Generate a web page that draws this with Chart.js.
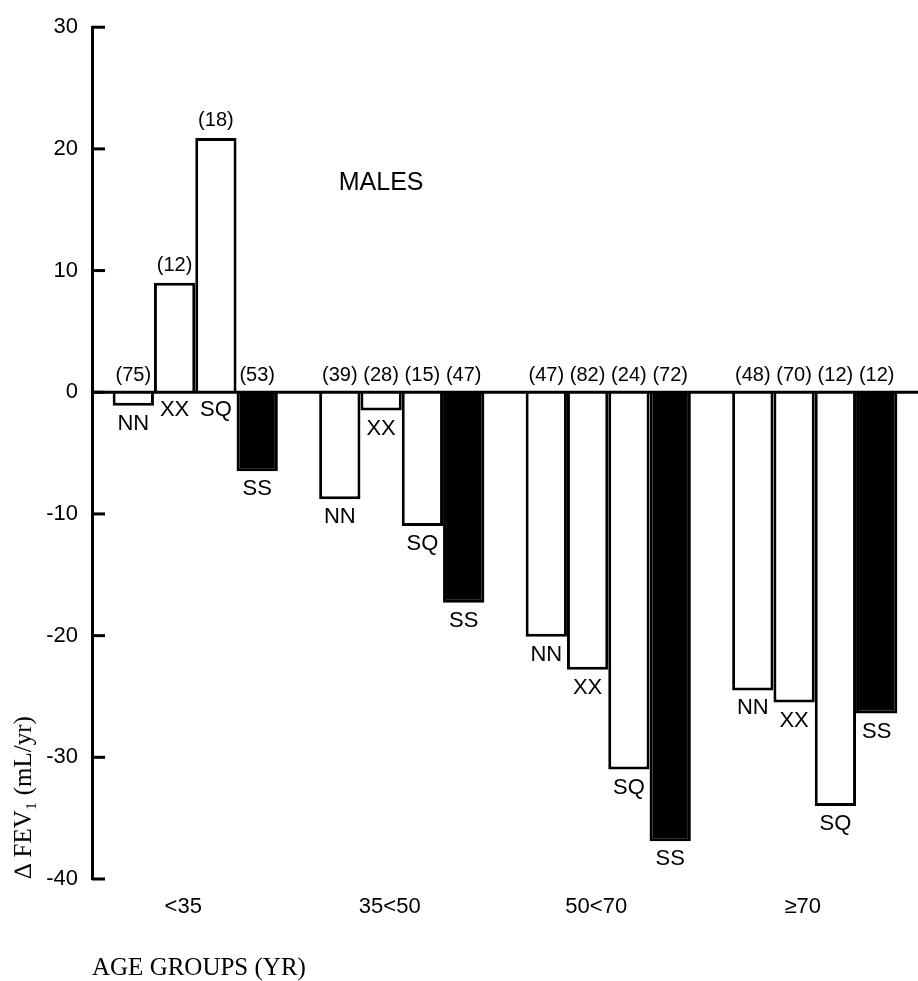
<!DOCTYPE html>
<html>
<head>
<meta charset="utf-8">
<script src="https://cdn.jsdelivr.net/npm/chart.js@4"></script>
<style>
    html, body { margin: 0; padding: 0; background: #fff; }
    #wrap { width: 918px; height: 981px; }
</style>
</head>
<body>
<div id="wrap"><canvas id="barChart"></canvas></div>
<script>
// values (mL/yr), one array per genotype
const ageGroups = ['<35', '35<50', '50<70', '\u226570'];
const nnValues = [-1.1, -8.8, -20.1, -24.5];
const xxValues = [9.0, -1.5, -22.8, -25.5];
const sqValues = [20.9, -11.0, -31.0, -34.0];
const ssValues = [-6.5, -17.3, -36.9, -26.4];

// number of subjects, printed above each bar
const nnCounts = [75, 39, 47, 48];
const xxCounts = [12, 28, 82, 70];
const sqCounts = [18, 15, 24, 12];
const ssCounts = [53, 47, 72, 12];

const yTicks = [-40, -30, -20, -10, 0, 10, 20, 30];

const sans = "'Liberation Sans', Arial, Helvetica, sans-serif";
const serif = "'Liberation Serif', 'Times New Roman', serif";

const barChart_ctx = document.getElementById('barChart').getContext('2d');

function make_dataset(label, values, counts, fill) {
    return {
        label: label,
        data: values,
        counts: counts,
        backgroundColor: fill,
        borderColor: '#000',
        borderWidth: 3,
        borderSkipped: 'start',
        barPercentage: 1.0,
        categoryPercentage: 0.8
    };
}

// inward tick marks, the zero line, and the text printed on the bars
const figureMarks = {
    id: 'figureMarks',
    afterDatasetsDraw(chart) {
        const ctx = chart.ctx;
        const y = chart.scales.y;
        const area = chart.chartArea;

        ctx.save();
        ctx.strokeStyle = '#000';
        ctx.lineWidth = 3;

        // zero line across the whole plot
        const zero = y.getPixelForValue(0);
        ctx.beginPath();
        ctx.moveTo(area.left, zero);
        ctx.lineTo(area.right, zero);
        ctx.stroke();

        // short ticks pointing into the plot
        y.ticks.forEach(t => {
            const py = y.getPixelForValue(t.value);
            ctx.beginPath();
            ctx.moveTo(area.left, py);
            ctx.lineTo(area.left + 13, py);
            ctx.stroke();
        });

        ctx.fillStyle = '#000';
        ctx.textAlign = 'center';

        chart.data.datasets.forEach((ds, i) => {
            const meta = chart.getDatasetMeta(i);
            meta.data.forEach((bar, j) => {
                const top = Math.min(bar.y, bar.base);
                const bottom = Math.max(bar.y, bar.base);

                // count in brackets above the bar
                ctx.font = '20px ' + sans;
                ctx.textBaseline = 'bottom';
                ctx.fillText('(' + ds.counts[j] + ')', bar.x, top - 7);

                // genotype name under the bar end
                ctx.font = '22px ' + sans;
                ctx.textBaseline = 'top';
                ctx.fillText(ds.label, bar.x, bottom + 7);
            });
        });

        // panel caption
        const x = chart.scales.x;
        ctx.font = '25px ' + sans;
        ctx.textBaseline = 'middle';
        ctx.fillText('MALES', x.getPixelForValue(0.9), y.getPixelForValue(17.2));

        ctx.restore();
    }
};

new Chart(barChart_ctx, {
    type: 'bar',
    data: {
        labels: ageGroups,
        datasets: [
            make_dataset('NN', nnValues, nnCounts, '#fff'),
            make_dataset('XX', xxValues, xxCounts, '#fff'),
            make_dataset('SQ', sqValues, sqCounts, '#fff'),
            make_dataset('SS', ssValues, ssCounts, '#000')
        ]
    },
    options: {
        responsive: true,
        maintainAspectRatio: false,
        animation: false,
        layout: {
            padding: { top: 17, right: -4, bottom: 0, left: 0 }
        },
        scales: {
            x: {
                grid: { display: false, drawTicks: false },
                border: { display: false },
                ticks: {
                    color: '#000',
                    padding: 15,
                    labelOffset: -12,
                    font: { family: sans, size: 22 }
                },
                title: {
                    display: true,
                    text: 'AGE GROUPS (YR)',
                    align: 'start',
                    color: '#000',
                    padding: { top: 0, bottom: 0 },
                    font: { family: serif, size: 25, lineHeight: 1 }
                },
                afterFit(scale) {
                    scale.height = 102;
                }
            },
            y: {
                min: -40,
                max: 30,
                afterBuildTicks(scale) {
                    scale.ticks = yTicks.map(v => ({ value: v }));
                },
                grid: { display: true, drawOnChartArea: false, drawTicks: false },
                border: { display: true, color: '#000', width: 3 },
                ticks: {
                    color: '#000',
                    padding: 14,
                    font: { family: sans, size: 22 }
                },
                title: {
                    display: true,
                    text: '\u2206 FEV\u2081 (mL/yr)',
                    align: 'start',
                    color: '#000',
                    padding: { top: 9, bottom: 0 },
                    font: { family: serif, size: 25 }
                },
                afterFit(scale) {
                    scale.width = 92;
                }
            }
        },
        plugins: {
            legend: { display: false },
            tooltip: { enabled: false }
        }
    },
    plugins: [figureMarks]
});
</script>
</body>
</html>
